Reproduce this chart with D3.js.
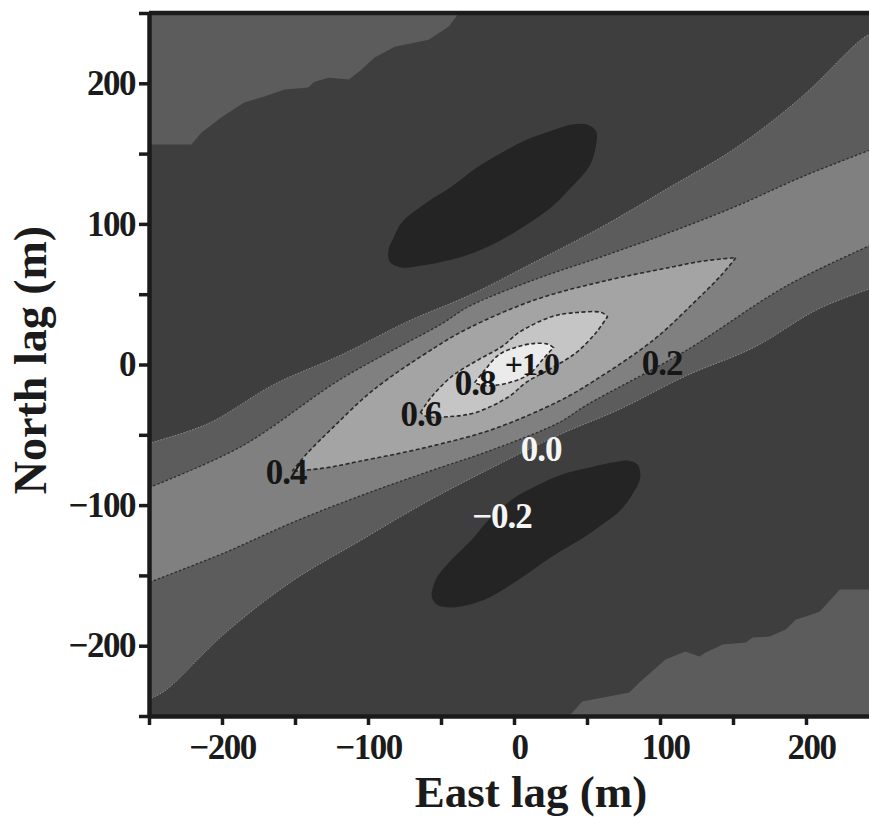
<!DOCTYPE html>
<html>
<head>
<meta charset="utf-8">
<script src="https://cdn.jsdelivr.net/npm/d3@7"></script>
<style>
  html, body { margin: 0; padding: 0; background: #ffffff; }
  svg { display: block; }
</style>
</head>
<body>
<svg id="chart" width="869" height="817"></svg>
<script>
// ---- Lag axes (metres) ----
const lagDomain = [-250, 250];
const tickValues = [-250, -200, -150, -100, -50, 0, 50, 100, 150, 200, 250];
const labelValues = [-200, -100, 0, 100, 200];

// ---- Correlation contour levels ----
const levels = [-0.2, 0.0, 0.2, 0.4, 0.6, 0.8, 1.0];

// Contour outlines, each point is [east lag, north lag] in metres.
// Corner patches where the correlation climbs back above 0.0
const cornerNW = [[-250, 250], [-250, 156.5], [-221, 156.5], [-214, 165], [-200.5, 175.7], [-184.8, 186.3],
  [-171, 190.6], [-157, 195.6], [-140.8, 197], [-137, 201], [-127, 204], [-113, 202.7], [-104.4, 209.8],
  [-95.5, 218.3], [-81.7, 226], [-58.4, 231], [-44.6, 240.4], [-37.8, 250]];
const cornerSE = [[37.8, -250], [46.7, -239.7], [79, -233.3], [85.9, -226.2], [103.7, -209.8], [117.4, -204.1],
  [127, -207.7], [131.2, -204.8], [142.9, -199.1], [158.7, -197.7], [163.5, -194.2], [175.1, -193.5],
  [186.1, -188.5], [193, -181.4], [199.9, -179.2], [209.5, -175.7], [223.2, -160], [250, -160], [250, -250]];

// 0.0 contour: upper edge (west to east) and lower edge (east to west)
const zeroUpper = [[-250, -56], [-209.5, -42], [-164, -14], [-118, 7], [-72, 31], [-31, 49], [14.4, 73],
  [60.4, 98], [106.5, 126], [151.8, 154], [197.8, 191], [239, 232], [250, 238]];
const zeroLower = [[250, 56], [209.5, 40], [164, 12], [118, -8], [72, -32], [31, -50], [-14.4, -73],
  [-60.4, -98], [-106.5, -126], [-151.8, -154], [-197.8, -191], [-239, -232], [-250, -238]];

// 0.2 contour
const twoUpper = [[-250, -87.5], [-186.8, -58.3], [-118, -10], [-49.5, 29], [-30.9, 41.3], [14.4, 60.5],
  [60.4, 76.8], [106.5, 93.9], [151.8, 112.4], [197.8, 133.7], [250, 155]];
const twoLower = [[250, 87.5], [186.8, 56], [118, 10], [49.5, -29], [30.9, -41.3], [-14.4, -60.5],
  [-60.4, -76.8], [-106.5, -93.9], [-151.8, -112.4], [-197.8, -133.7], [-250, -155]];

// 0.4 contour (closed lens, tip to tip)
const fourUpper = [[-152, -76], [-141.5, -63], [-123.6, -44.4], [-96.2, -18], [-54.3, 12], [-30.9, 26],
  [14.4, 46], [60.4, 59], [106.5, 69], [129, 73.5], [152, 76]];
const fourLower = [[152, 76], [141.5, 63], [123.6, 44.4], [96.2, 18], [54.3, -12], [30.9, -26],
  [-14.4, -46], [-60.4, -59], [-106.5, -69], [-129, -73.5], [-152, -76]];

// 0.6 contour
const sixUpper = [[-64, -34], [-56.3, -22.8], [-42.6, -8.5], [-24, 3.6], [-8.2, 12.8], [3.4, 22.8],
  [26.1, 34.1], [43.3, 37], [60, 37], [64, 34]];
const sixLower = [[64, 34], [56.3, 22.8], [42.6, 8.5], [24, -3.6], [8.2, -12.8], [-3.4, -22.8],
  [-26.1, -34.1], [-43.3, -37], [-60, -37], [-64, -34]];

// 0.8 contour
const eightUpper = [[-27, -13], [-20, -4], [-10.3, 7], [2, 12.5], [14.4, 15], [23, 14.5], [27, 12]];
const eightLower = [[27, 12], [20, 4], [10.3, -7], [-2, -12.5], [-14.4, -15], [-23, -14.5], [-27, -13]];

// -0.2 contour: the two negative side lobes
const lobeNorth = [[-85.2, 73.3], [-85.9, 81.8], [-82.4, 90.3], [-76.9, 101], [-59.8, 115.2], [-42.6, 126.6],
  [-25.4, 140.1], [-8.2, 150.8], [8.9, 160], [26.1, 166.4], [39.8, 170.7], [50.1, 170.7], [56.3, 165.7],
  [55.6, 152.9], [51.5, 140.8], [37.8, 124.5], [26.1, 112.4], [8.9, 99.6], [-8.2, 88.9], [-25.4, 80.4],
  [-42.6, 74.7], [-63.2, 70.4], [-76.9, 69]];
const lobeSouth = [[-56.3, -165], [-54.9, -156.5], [-51.5, -149.4], [-42.6, -138.7], [-28.8, -124.5],
  [-17.2, -110.2], [-1.4, -96], [14.4, -86.8], [33, -78.2], [48.8, -74], [67.3, -69.7], [77.6, -68.3],
  [84.5, -71.1], [86.5, -80.4], [81, -92.5], [72.1, -104.6], [60.4, -113.8], [48.8, -122.3], [26.1, -136.6],
  [3.4, -152.9], [-19.9, -167.1], [-42.6, -172.8], [-52.9, -170.7]];

// Contour labels: text and the lag where each sits
const labelText = ["+1.0", "0.8", "0.6", "0.4", "0.2", "0.0", "\u22120.2"];
const labelEast = [12.3, -26.7, -63.7, -156, 101.4, 18.5, -8.2];
const labelNorth = [0.4, -13.2, -35.2, -76.5, 1.1, -60, -108];
const labelLight = [false, false, false, false, false, true, true];

// ---- Styling ----
const fills = {
  lobe: "#242424",   // below -0.2
  neg: "#3e3e3e",    // -0.2 .. 0.0
  l0: "#5c5c5c",     // 0.0 .. 0.2
  l2: "#808080",     // 0.2 .. 0.4
  l4: "#a4a4a4",     // 0.4 .. 0.6
  l6: "#c5c5c5",     // 0.6 .. 0.8
  l8: "#ebebeb"      // 0.8 .. 1.0
};
const serif = "'Liberation Serif', 'Times New Roman', Times, serif";
const ink = "#1b1b1b";

const x = d3.scaleLinear().domain(lagDomain).range([149, 879]);
const y = d3.scaleLinear().domain(lagDomain).range([716, 13]);

const svg = d3.select("#chart");
svg.append("defs").append("clipPath").attr("id", "plotClip")
  .append("rect")
  .attr("x", x(lagDomain[0])).attr("y", y(lagDomain[1]))
  .attr("width", x(lagDomain[1]) - x(lagDomain[0]))
  .attr("height", y(lagDomain[0]) - y(lagDomain[1]));

const plot = svg.append("g").attr("clip-path", "url(#plotClip)");

const smooth = d3.line().x(d => x(d[0])).y(d => y(d[1])).curve(d3.curveCatmullRom.alpha(0.5));
const straight = d3.line().x(d => x(d[0])).y(d => y(d[1]));
const loop = d3.line().x(d => x(d[0])).y(d => y(d[1])).curve(d3.curveCatmullRomClosed.alpha(0.5));

// Join two smooth edges into one closed outline
const joined = (a, b) => smooth(a) + smooth(b).replace(/^M/, "L") + "Z";

// Background level fills the whole lag window
plot.append("rect")
  .attr("x", x(lagDomain[0])).attr("y", y(lagDomain[1]))
  .attr("width", x(lagDomain[1]) - x(lagDomain[0]))
  .attr("height", y(lagDomain[0]) - y(lagDomain[1]))
  .attr("fill", fills.neg);

// Corner patches (0.0 .. 0.2), drawn on the coarse grid, so kept angular
[cornerNW, cornerSE].forEach(c => {
  plot.append("path").attr("d", straight(c) + "Z").attr("fill", fills.l0);
});

// Nested positive bands
plot.append("path").attr("d", joined(zeroUpper, zeroLower)).attr("fill", fills.l0);
plot.append("path").attr("d", joined(twoUpper, twoLower)).attr("fill", fills.l2);
plot.append("path").attr("d", joined(fourUpper, fourLower)).attr("fill", fills.l4);
plot.append("path").attr("d", joined(sixUpper, sixLower)).attr("fill", fills.l6);
plot.append("path").attr("d", joined(eightUpper, eightLower)).attr("fill", fills.l8);

// Negative side lobes
[lobeNorth, lobeSouth].forEach(l => {
  plot.append("path").attr("d", loop(l)).attr("fill", fills.lobe);
});

// Contour lines
[zeroUpper, zeroLower].forEach(e => {
  plot.append("path").attr("d", smooth(e)).attr("fill", "none")
    .attr("stroke", "#8c8c8c").attr("stroke-width", 1).attr("stroke-dasharray", "1.5,1.5");
});
[twoUpper, twoLower].forEach(e => {
  plot.append("path").attr("d", smooth(e)).attr("fill", "none")
    .attr("stroke", "#2e2e2e").attr("stroke-width", 1.3).attr("stroke-dasharray", "2.5,2");
});
[[fourUpper, fourLower], [sixUpper, sixLower], [eightUpper, eightLower]].forEach(([a, b]) => {
  plot.append("path").attr("d", joined(a, b)).attr("fill", "none")
    .attr("stroke", "#2a2a2a").attr("stroke-width", 1.6).attr("stroke-dasharray", "4,2.5");
});

// Contour labels
labelText.forEach((t, i) => {
  plot.append("text")
    .attr("x", x(labelEast[i])).attr("y", y(labelNorth[i]))
    .attr("dy", "0.34em")
    .attr("text-anchor", "middle")
    .attr("font-family", serif).attr("font-weight", "bold")
    .attr("font-size", i === 0 ? 32 : 35)
    .attr("letter-spacing", -1)
    .attr("fill", labelLight[i] ? "#f5f5f5" : "#161616")
    .text(t);
});

// ---- Axes ----
const fmt = v => labelValues.includes(v) ? (v < 0 ? "\u2212" + Math.abs(v) : String(v)) : "";

const gy = svg.append("g")
  .attr("transform", `translate(${x(lagDomain[0])},0)`)
  .call(d3.axisLeft(y).tickValues(tickValues).tickFormat(fmt).tickSize(10).tickSizeOuter(0).tickPadding(4));

const gx = svg.append("g")
  .attr("transform", `translate(0,${y(lagDomain[0])})`)
  .call(d3.axisBottom(x).tickValues(tickValues).tickFormat(fmt).tickSize(9).tickSizeOuter(0).tickPadding(9.5));

[gx, gy].forEach(g => {
  g.select(".domain").attr("stroke", ink).attr("stroke-width", 4.5);
  g.selectAll(".tick line").attr("stroke", ink).attr("stroke-width", 3.5);
  g.selectAll(".tick text")
    .attr("font-family", serif).attr("font-weight", "bold")
    .attr("font-size", 35).attr("letter-spacing", -1.5).attr("fill", ink);
});
gx.selectAll(".tick text").attr("dx", d => d >= 0 ? 5 : 0);

// Top frame
svg.append("line")
  .attr("x1", x(lagDomain[0])).attr("x2", x(lagDomain[1]))
  .attr("y1", y(lagDomain[1])).attr("y2", y(lagDomain[1]))
  .attr("stroke", ink).attr("stroke-width", 4.5);

// Axis titles
svg.append("text")
  .attr("x", 531).attr("y", 807)
  .attr("text-anchor", "middle")
  .attr("font-family", serif).attr("font-weight", "bold").attr("font-size", 45)
  .attr("fill", ink)
  .text("East lag (m)");

svg.append("text")
  .attr("transform", "translate(46,360) rotate(-90)")
  .attr("text-anchor", "middle")
  .attr("font-family", serif).attr("font-weight", "bold").attr("font-size", 46)
  .attr("fill", ink)
  .text("North lag (m)");
</script>
</body>
</html>
